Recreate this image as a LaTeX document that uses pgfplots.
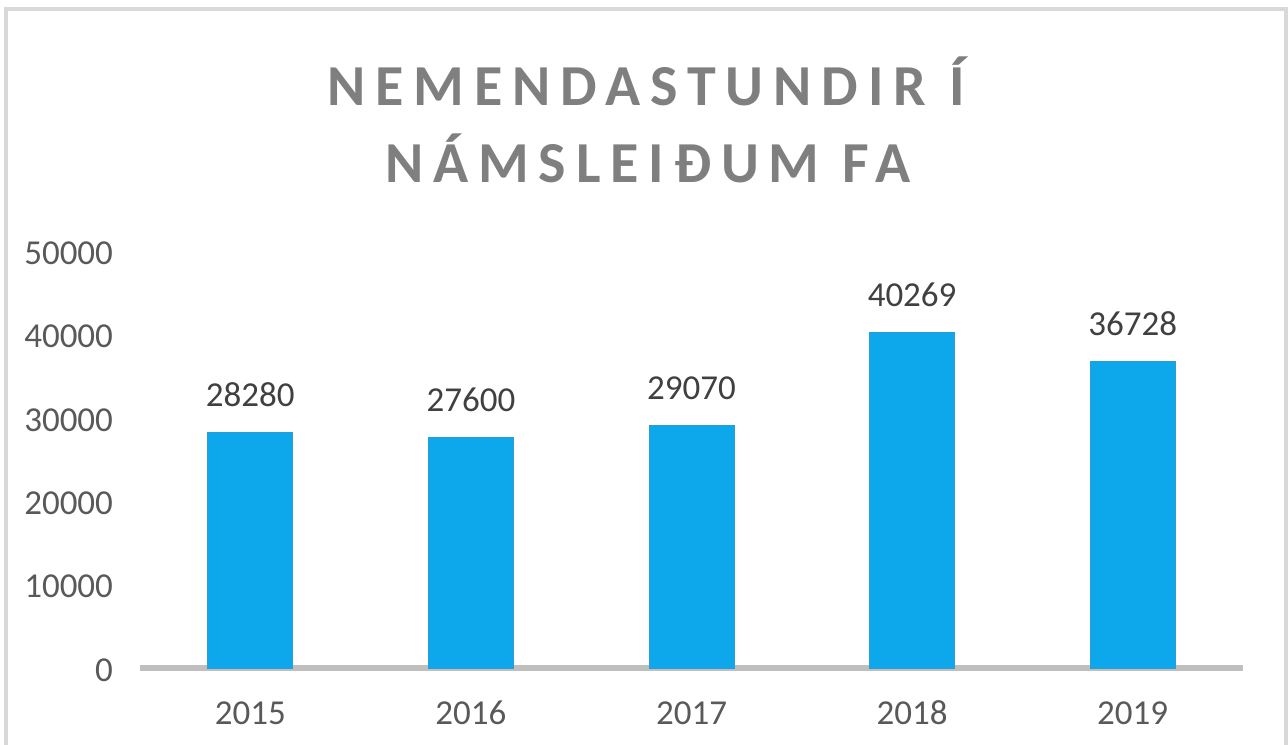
\documentclass[border=0pt]{standalone}
\usepackage{fontspec}
\setmainfont{Carlito}
\newfontfamily\titlefont{Carlito}[LetterSpace=17]
\usepackage{pgfplots}
\pgfplotsset{compat=1.18}

\definecolor{barblue}{HTML}{0DA8EC}
\definecolor{baredge}{HTML}{2E9BD6}
\definecolor{axisgrey}{HTML}{BFBFBF}
\definecolor{framegrey}{HTML}{D9D9D9}
\definecolor{ticktext}{HTML}{595959}
\definecolor{labeltext}{HTML}{404040}
\definecolor{titlegrey}{HTML}{7F7F7F}

\begin{document}
\begin{tikzpicture}
  % page is 1288 x 745 px, 1 px = 0.5bp
  \useasboundingbox (0,0) rectangle (644bp,-372.5bp);
  \draw[framegrey, line width=1.6bp]
    (3bp,-390bp) -- (3bp,-4.5bp) -- (643bp,-4.5bp) -- (643bp,-390bp);

  \node[anchor=base, text=titlegrey, font=\titlefont\bfseries\fontsize{29bp}{34bp}\selectfont]
    at (323bp,-52.5bp) {NEMENDASTUNDIR Í};
  \node[anchor=base, text=titlegrey, font=\titlefont\bfseries\fontsize{29bp}{34bp}\selectfont]
    at (324bp,-91bp) {NÁMSLEIÐUM FA};

  \begin{axis}[
      at={(70bp,-334bp)},
      anchor=south west,
      scale only axis,
      width=551.5bp,
      height=208.5bp,
      xmin=-0.5, xmax=4.5,
      ymin=0, ymax=50000,
      xtick={0,1,2,3,4},
      xticklabels={2015,2016,2017,2018,2019},
      ytick={0,10000,20000,30000,40000,50000},
      scaled y ticks=false,
      separate axis lines,
      axis x line*=bottom,
      axis y line*=left,
      x axis line style={draw=axisgrey, line width=3bp, -},
      y axis line style={draw=none},
      major tick length=0pt,
      tick style={draw=none},
      /pgf/number format/assume math mode=true,
      /pgf/number format/1000 sep={},
      ticklabel style={font=\fontsize{17.5bp}{21bp}\selectfont, text=ticktext},
      yticklabel style={xshift=-10bp, yshift=-1bp},
      xticklabel style={anchor=base, yshift=-28bp},
      ybar,
      bar width=42.5bp,
      bar shift=0pt,
      nodes near coords,
      every node near coord/.append style={font=\fontsize{17.5bp}{21bp}\selectfont, text=labeltext, anchor=base, yshift=13bp},
      clip=false,
    ]
    \addplot[fill=barblue, draw=baredge, line width=0.5bp] coordinates {
      (0,28280) (1,27600) (2,29070) (3,40269) (4,36728)
    };
  \end{axis}
\end{tikzpicture}
\end{document}
